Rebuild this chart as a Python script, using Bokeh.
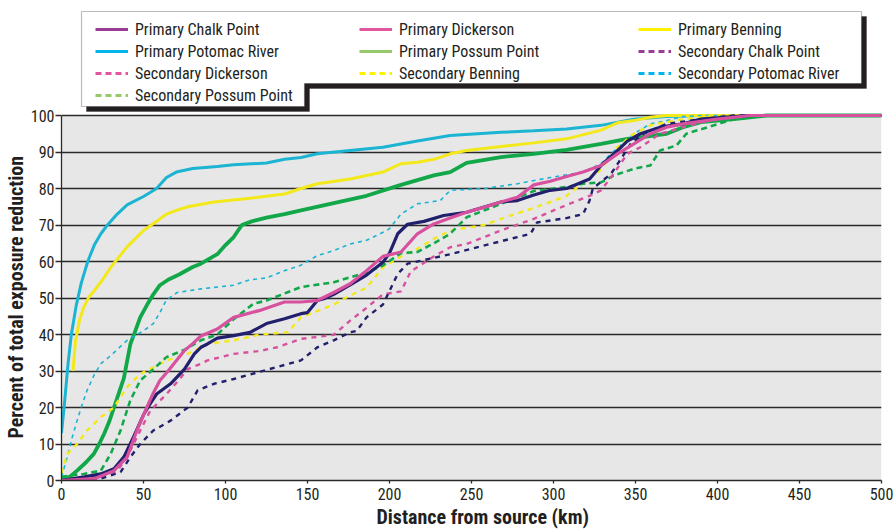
from bokeh.plotting import figure
from bokeh.models import (Range1d, FixedTicker, Legend, LegendItem, PolyAnnotation,
                          BoxAnnotation, Title)
from bokeh.embed import file_html
from bokeh.resources import INLINE

FONT = "'Liberation Sans Narrow', 'Arial Narrow', 'Roboto Condensed', 'Liberation Sans', sans-serif"

# ---------------- data (distance km, percent) ----------------
ppr_x = [0, 2, 4, 6, 9, 12, 16, 20, 24, 28, 34, 40, 50, 58, 64, 70, 80, 95, 105, 125, 136, 146, 156, 176, 196, 217, 237, 268, 288, 308, 329, 349, 369, 390, 500]
ppr_y = [13, 22, 32, 40, 48, 54, 60, 64.5, 67.6, 70, 73, 75.5, 77.8, 80, 83, 84.5, 85.5, 86, 86.5, 87, 88, 88.5, 89.5, 90.4, 91.3, 93, 94.5, 95.4, 95.8, 96.3, 97.3, 99, 99.7, 100, 100]

pb_x = [7, 8.5, 11, 13.6, 17, 20, 25, 30, 40, 50, 58, 64, 70, 77, 93, 115, 136, 146, 156, 176, 196, 207, 217, 227, 237, 247, 268, 288, 308, 329, 339, 349, 359, 369, 500]
pb_y = [30, 38, 44, 47.5, 50.5, 52, 55, 58.4, 64, 68.5, 71, 73, 74, 75, 76.3, 77.3, 78.5, 80, 81.3, 82.6, 84.5, 86.8, 87.2, 88, 89.5, 90.4, 91.5, 92.5, 93.6, 96, 98, 98.6, 99.5, 100, 100]

ppp_x = [0, 5, 9.5, 15, 19.7, 23, 26, 29, 32, 35, 38, 42, 45, 48, 52, 56, 60, 65, 72, 80, 85, 95, 100, 105, 110, 116, 125, 136, 146, 166, 186, 207, 227, 237, 247, 268, 288, 308, 329, 345, 353, 369, 379, 390, 410, 430, 500]
ppp_y = [0, 1, 2.7, 5, 7.3, 10, 12.8, 16, 20, 24, 28, 37.4, 41, 44.7, 48, 51, 53.5, 55, 56.5, 58.5, 59.4, 62, 64.5, 66.7, 70, 71, 72, 73, 74, 76, 78, 81, 83.6, 84.5, 87, 88.6, 89.5, 90.6, 92.2, 93.6, 94, 95, 96.8, 98.2, 99, 100, 100]

pcp_x = [0, 14, 24, 32, 38, 44, 50, 54, 58, 66.5, 75, 81, 85, 89, 95, 99, 105, 115, 125, 136, 146, 150, 156, 160, 166, 176, 186, 196, 200, 205, 211, 221, 233, 247, 268, 278, 288, 298, 308, 322, 329, 339, 345, 353, 365, 379, 390, 410, 420, 500]
pcp_y = [0, 1, 1.8, 3.2, 6.4, 12, 18, 21, 23.7, 26.5, 30.5, 34.7, 36.5, 37.4, 39, 39.3, 39.7, 40.6, 43, 44.3, 45.7, 46, 49.3, 49.8, 51, 53.6, 56.3, 59.8, 62.3, 67.6, 70.2, 71, 72.6, 73.5, 76.3, 76.7, 78.2, 79.5, 80, 82.6, 86.3, 90.4, 93, 95, 96.8, 97.7, 99, 99.7, 100, 100]

pd_x = [0, 20, 32, 40, 46, 52, 56, 60, 65, 68.5, 75, 80, 85, 95, 105, 121, 131.5, 136, 146, 156, 166, 176, 186, 196, 207, 217, 227, 237, 247, 258, 268, 278, 288, 298, 308, 318, 329, 339, 349, 359, 369, 379, 400, 420, 500]
pd_y = [0, 0.5, 2.7, 6.4, 13.7, 20, 24, 27.4, 30, 32, 35.6, 37.5, 39.6, 41.5, 44.7, 46.6, 48.2, 48.9, 48.9, 49.3, 51.5, 53.9, 57.5, 61.4, 62.6, 67.6, 70.3, 71.9, 73.5, 74.9, 76.3, 77.6, 81, 82, 83.3, 84.5, 86.3, 89.5, 92.2, 95, 96.8, 97.7, 99, 100, 100]

spr_x = [0, 3.5, 6, 9.5, 12, 15.6, 20, 24, 30, 40, 50, 56, 60, 64, 70.5, 85, 105, 115, 125, 136, 146, 156, 166, 176, 186, 196, 200, 207, 217, 231, 237, 258, 278, 298, 318, 329, 335, 349, 359, 369, 379, 390, 500]
spr_y = [1, 6.4, 11, 16.4, 20, 24.7, 29, 32, 34.2, 38.4, 41, 43, 46, 49.5, 51.5, 52.5, 53.5, 55, 55.5, 57.5, 59, 61.6, 63, 64.8, 65.8, 68, 69, 73, 75.8, 76.7, 79.5, 80, 81.3, 83, 84.5, 86.8, 89.5, 95, 97.7, 98.6, 99.7, 100, 100]

sb_x = [0, 3.5, 9.5, 15.6, 24, 32, 40, 48, 56, 64, 77, 89, 105, 121, 138, 146, 166, 176, 186, 196, 207, 217, 227, 237, 258, 268, 288, 298, 308, 318, 329, 339, 349, 359, 369, 379, 400, 500]
sb_y = [2, 7.3, 10, 13.7, 17.4, 20, 25.6, 29.2, 31, 32.9, 34.7, 37.4, 38.4, 40, 40.6, 44.7, 48.2, 50.7, 52.8, 58.4, 61.4, 63.5, 66.2, 68.5, 70, 71.7, 74.7, 76.3, 78, 81.5, 85.2, 91.3, 95, 97.3, 98.2, 99, 100, 100]

spp_x = [0, 13.6, 24, 30, 36, 42, 48, 56, 64, 75, 85, 95, 105, 117, 125, 146, 166, 186, 196, 207, 217, 227, 237, 247, 268, 288, 308, 318, 329, 337, 349, 359, 365, 375, 381, 394, 410, 426, 500]
spp_y = [1, 1.8, 2.7, 7.3, 13.7, 22, 27.4, 30.5, 33.8, 35.8, 38.4, 40, 44.2, 48.4, 49.3, 53, 54.3, 57, 58.9, 62.3, 62.6, 65, 67.6, 72.1, 75.8, 79.3, 80.4, 81.3, 81.7, 83.6, 85.4, 86.3, 90.4, 91.8, 95, 96.8, 99, 100, 100]

sd_x = [0, 24, 34, 40, 48, 54, 64, 70.5, 77, 85, 89, 105, 121, 131.5, 146, 166, 176, 186, 196, 207, 213, 227, 237, 247, 268, 288, 308, 322, 329, 335, 345, 353, 365, 379, 398, 414, 500]
sd_y = [0, 1, 2.7, 6.4, 13.7, 19, 23.7, 27, 30.5, 32, 32.9, 34.7, 35.5, 36.5, 38.8, 39.9, 43.8, 47.3, 51, 51.8, 57.3, 61.4, 63.9, 64.8, 68.5, 71.7, 75.5, 78, 79.5, 83, 89.5, 91.3, 95, 96.8, 99, 100, 100]

scp_x = [0, 24, 36, 42, 48, 56, 66.5, 77, 83, 93, 105, 125, 146, 156, 166, 176, 180, 186, 196, 205, 211, 227, 237, 258, 278, 286, 290, 308, 318, 322, 324, 335, 341, 347, 355, 369, 390, 410, 500]
scp_y = [0, 0.5, 2.3, 6.4, 10, 13.7, 16.4, 20, 24.7, 26.5, 27.8, 30.3, 32.9, 36.5, 38.4, 40.6, 41, 44.7, 48.2, 56.6, 59.4, 61, 62, 64.4, 66.7, 67.6, 70.7, 71.9, 73, 76.7, 80, 84, 88, 92.2, 95, 97.7, 99, 100, 100]

x_ticks = [0, 50, 100, 150, 200, 250, 300, 350, 400, 450, 500]
y_ticks = [0, 10, 20, 30, 40, 50, 60, 70, 80, 90, 100]

legend_labels = [
    ["Primary Chalk Point", "Primary Potomac River", "Secondary Dickerson", "Secondary Possum Point"],
    ["Primary Dickerson", "Primary Possum Point", "Secondary Benning"],
    ["Primary Benning", "Secondary Chalk Point", "Secondary Potomac River"],
]

# ---------------- layout constants (canvas px) ----------------
W, H = 894, 531
FL, FR = 61, 881          # frame left / right (x = 0 / 500)
FB = 480                  # frame bottom (y = 0)
Y100 = 115                # canvas row of y = 100
TEXT = "#231f20"
GRID = "#2a2a2a"
XMAX, YMAX = 500, 100
y_end = YMAX * FB / (FB - Y100)   # range top so the legend strip sits above 100 %

def dx(cx):
    return (cx - FL) * XMAX / (FR - FL)

def dy(cy):
    return (FB - cy) * YMAX / (FB - Y100)

p = figure(width=W, height=H, x_range=Range1d(0, XMAX), y_range=Range1d(0, y_end),
           output_backend="svg", toolbar_location=None,
           min_border_left=FL, min_border_right=W - FR, min_border_top=0, min_border_bottom=H - FB)
p.background_fill_color = "white"
p.border_fill_color = "white"
p.outline_line_color = None

# grey plotting area 0..100 %
p.add_layout(BoxAnnotation(left=0, right=XMAX, bottom=0, top=YMAX, fill_color="#e7e7e7",
                           fill_alpha=1, line_color=None, level="image"))

p.xgrid.grid_line_color = None
p.ygrid.grid_line_color = GRID
p.ygrid.grid_line_width = 1.3
p.xaxis.ticker = FixedTicker(ticks=x_ticks)
p.yaxis.ticker = FixedTicker(ticks=y_ticks)
p.yaxis.bounds = (0, YMAX)

for ax in (p.xaxis[0], p.yaxis[0]):
    ax.minor_tick_line_color = None
    ax.major_label_text_font = FONT
    ax.major_label_text_font_size = "16px"
    ax.major_label_text_color = TEXT
    ax.axis_line_color = GRID
    ax.axis_line_width = 1.3
    ax.major_tick_line_color = GRID
    ax.major_tick_line_width = 1.3
    ax.major_tick_in = 0

p.xaxis.major_tick_out = 3
p.xaxis.major_label_standoff = 4
p.yaxis.major_tick_out = 6
p.yaxis.major_label_standoff = 1

ytitle = Title(text="Percent of total exposure reduction", align="left", vertical_align="bottom",
               offset=FB - 438, standoff=0, text_font=FONT, text_font_size="20px",
               text_font_style="bold", text_color=TEXT)
p.add_layout(ytitle, "left")
xtitle = Title(text="Distance from source (km)", align="left", vertical_align="middle",
               offset=376 - FL, standoff=2, text_font=FONT, text_font_size="20px",
               text_font_style="bold", text_color=TEXT)
p.add_layout(xtitle, "below")

NAVY = "#22206c"
PINK = "#d8519f"
YEL = "#f3e81a"
CYAN = "#1bb4d2"
GRN = "#12a84a"

p.line(ppr_x, ppr_y, line_color=CYAN, line_width=3)
p.line(pb_x, pb_y, line_color=YEL, line_width=3)
p.line(ppp_x, ppp_y, line_color=GRN, line_width=3.8)
p.line(spr_x, spr_y, line_color=CYAN, line_width=1.6, line_dash="4 4")
p.line(sb_x, sb_y, line_color=YEL, line_width=2.4, line_dash="5 5")
p.line(spp_x, spp_y, line_color=GRN, line_width=2.6, line_dash="6 4")
p.line(sd_x, sd_y, line_color=PINK, line_width=2.4, line_dash="5 5")
p.line(scp_x, scp_y, line_color=NAVY, line_width=2.4, line_dash="5 5")
p.line(pcp_x, pcp_y, line_color=NAVY, line_width=3.2)
p.line(pd_x, pd_y, line_color=PINK, line_width=3.2)

# ---------------- legend box (L shape with drop shadow) ----------------
box_cx = [81, 861, 861, 304, 304, 81]
box_cy = [11, 11, 83, 83, 106, 106]
p.add_layout(PolyAnnotation(xs=[dx(c + 5) for c in box_cx], ys=[dy(c + 5) for c in box_cy],
                            fill_color=TEXT, fill_alpha=1, line_color=TEXT, line_width=1))
p.add_layout(PolyAnnotation(xs=[dx(c) for c in box_cx], ys=[dy(c) for c in box_cy],
                            fill_color="white", fill_alpha=1, line_color=TEXT, line_width=1.2))

LEG = {
    "Primary Chalk Point": ("#9b3b98", None), "Primary Dickerson": ("#e0569f", None),
    "Primary Benning": ("#fff200", None), "Primary Potomac River": ("#00b5ec", None),
    "Primary Possum Point": ("#95c96a", None), "Secondary Chalk Point": ("#9b3b98", "6 4"),
    "Secondary Dickerson": ("#e0569f", "6 4"), "Secondary Benning": ("#fff200", "6 4"),
    "Secondary Potomac River": ("#00b5ec", "6 4"), "Secondary Possum Point": ("#95c96a", "6 4"),
}
col_cx = [95, 359, 638]
row_h = 22
top = 18
for ci, labels in enumerate(legend_labels):
    items = []
    for lab in labels:
        col, dash = LEG[lab]
        kw = dict(line_color=col, line_width=3)
        if dash:
            kw["line_dash"] = dash
        # legend-only swatch renderer, kept outside the visible ranges
        r = p.line([-20, -10], [-20, -20], **kw)
        items.append(LegendItem(label=lab, renderers=[r]))
    h = row_h * len(labels)
    leg = Legend(items=items, location=(col_cx[ci] - FL, FB - (top + h)),
                 border_line_color=None, background_fill_alpha=0, padding=0, margin=0, spacing=0,
                 glyph_width=33, glyph_height=row_h, label_height=row_h, label_standoff=7,
                 label_text_font=FONT, label_text_font_size="16px", label_text_color=TEXT)
    p.add_layout(leg)

open("out.html", "w").write(file_html(p, INLINE))
